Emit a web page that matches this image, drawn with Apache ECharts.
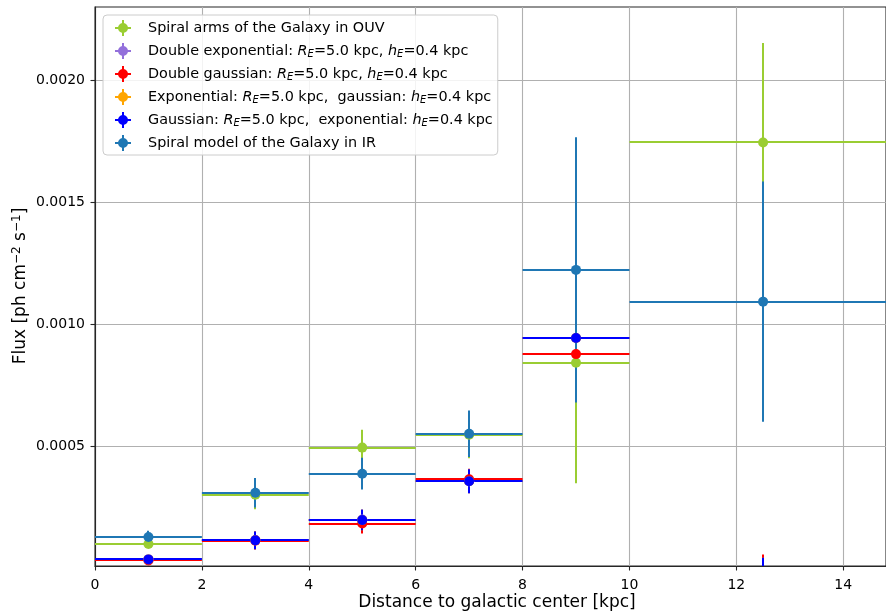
<!DOCTYPE html>
<html>
<head>
<meta charset="utf-8">
<script src="https://cdn.jsdelivr.net/npm/echarts@6/dist/echarts.min.js"></script>
<style>
  html, body { margin: 0; padding: 0; background: #ffffff; }
  #chart { width: 886px; height: 614px; }
</style>
</head>
<body>
<div id="chart"></div>
<script>
// Radial bins (kpc): centre, lower edge, upper edge
const binCenters = [1, 3, 5, 7, 9, 12.5];
const binLow     = [0, 2, 4, 6, 8, 10];
const binHigh    = [2, 4, 6, 8, 10, 15];

// Flux per bin [ph cm^-2 s^-1] and its 1-sigma error
const ouvFlux   = [0.000100, 0.000302, 0.000495, 0.000548, 0.000843, 0.001745];
const ouvErr    = [0.000012, 0.000060, 0.000073, 0.000097, 0.000494, 0.000408];

const dblExpFlux = [0.000037, 0.000116, 0.000200, 0.000357, 0.000944, 0.0];
const dblExpErr  = [0.000008, 0.000036, 0.000042, 0.000049, 0.000060, 0.000044];

const dblGauFlux = [0.000033, 0.000114, 0.000184, 0.000365, 0.000878, 0.0];
const dblGauErr  = [0.000008, 0.000036, 0.000041, 0.000043, 0.000060, 0.000057];

const expGauFlux = [0.000037, 0.000115, 0.000198, 0.000357, 0.000944, 0.0];
const expGauErr  = [0.000008, 0.000036, 0.000042, 0.000049, 0.000060, 0.000044];

const gauExpFlux = [0.000037, 0.000115, 0.000198, 0.000357, 0.000944, 0.0];
const gauExpErr  = [0.000008, 0.000036, 0.000042, 0.000049, 0.000060, 0.000044];

const irFlux    = [0.000129, 0.000310, 0.000388, 0.000552, 0.001223, 0.001093];
const irErr     = [0.000025, 0.000060, 0.000065, 0.000095, 0.000543, 0.000492];

// Axis ticks
const xTicks = [0, 2, 4, 6, 8, 10, 12, 14];
const yTicks = [0.0005, 0.0010, 0.0015, 0.0020];

const seriesDefs = [
  { name: 'Spiral arms of the Galaxy in OUV', color: '#9acd32', flux: ouvFlux, err: ouvErr },
  { name: 'Double exponential: R_E=5.0 kpc, h_E=0.4 kpc', color: '#9370db', flux: dblExpFlux, err: dblExpErr },
  { name: 'Double gaussian: R_E=5.0 kpc, h_E=0.4 kpc', color: '#ff0000', flux: dblGauFlux, err: dblGauErr },
  { name: 'Exponential: R_E=5.0 kpc,  gaussian: h_E=0.4 kpc', color: '#ffa500', flux: expGauFlux, err: expGauErr },
  { name: 'Gaussian: R_E=5.0 kpc,  exponential: h_E=0.4 kpc', color: '#0000ff', flux: gauExpFlux, err: gauExpErr },
  { name: 'Spiral model of the Galaxy in IR', color: '#1f77b4', flux: irFlux, err: irErr }
];

const FONT = '"DejaVu Sans", "Liberation Sans", sans-serif';

// errorbar legend glyph: horizontal bar, vertical bar and a dot
const errIcon = 'path://M0,7h16v2h-16z M7,0h2v16h-2z M3,8a5,5 0 1,1 10,0a5,5 0 1,1 -10,0z';

function renderErrorBar(params, api) {
  const x = api.value(0), y = api.value(1);
  const x0 = api.value(2), x1 = api.value(3), e = api.value(4);
  const a = api.coord([x0, y]), b = api.coord([x1, y]);
  const t = api.coord([x, y + e]), d = api.coord([x, y - e]);
  // snap to whole pixels so overlapping bars cover each other cleanly
  const yy = Math.round(a[1]), xx = Math.round(t[0]);
  const style = { stroke: api.visual('color'), lineWidth: 2, fill: null };
  return {
    type: 'group',
    children: [
      { type: 'line', shape: { x1: a[0], y1: yy, x2: b[0], y2: yy }, style: style },
      { type: 'line', shape: { x1: xx, y1: t[1], x2: xx, y2: d[1] }, style: style }
    ]
  };
}

const series = [];
// bars first, then the markers on top of all bars
seriesDefs.forEach(function (s) {
  series.push({
    type: 'custom',
    name: s.name,
    renderItem: renderErrorBar,
    itemStyle: { color: s.color },
    clip: true,
    z: 2,
    silent: true,
    data: binCenters.map(function (x, i) { return [x, s.flux[i], binLow[i], binHigh[i], s.err[i]]; })
  });
});
seriesDefs.forEach(function (s) {
  series.push({
    type: 'scatter',
    name: s.name,
    symbol: 'circle',
    symbolSize: 10,
    itemStyle: { color: s.color, opacity: 1 },
    clip: true,
    z: 3,
    silent: true,
    data: binCenters.map(function (x, i) { return [x, s.flux[i]]; })
  });
});

// legend labels with italic symbols and subscripts
function legendLabel(name) {
  return name
    .replace(/R_E/g, '{i|R}{s|E}')
    .replace(/h_E/g, '{i|h}{s|E}');
}

const chart = echarts.init(document.getElementById('chart'), null, { renderer: 'canvas' });
chart.setOption({
  animation: false,
  backgroundColor: '#ffffff',
  textStyle: { fontFamily: FONT },
  grid: {
    left: 95, top: 7, right: -1, bottom: 48,
    show: true, borderColor: '#262626', borderWidth: 1.1, backgroundColor: 'transparent'
  },
  // axis titles
  graphic: [
    {
      type: 'text', x: 497, y: 603, silent: true,
      style: {
        text: 'Distance to galactic center [kpc]',
        fontFamily: FONT, fontSize: 17, fill: '#000',
        align: 'center', verticalAlign: 'middle'
      }
    },
    {
      type: 'text', x: 20.5, y: 286, rotation: Math.PI / 2, silent: true,
      style: {
        text: '{t|Flux [ph cm}{p|−2}{t| s}{p|−1}{t|]}',
        fontFamily: FONT, fontSize: 17, fill: '#000',
        align: 'center', verticalAlign: 'middle',
        rich: {
          t: { fontFamily: FONT, fontSize: 17, fill: '#000', lineHeight: 20 },
          p: { fontFamily: FONT, fontSize: 12, fill: '#000', lineHeight: 8, verticalAlign: 'top' }
        }
      }
    }
  ],
  legend: {
    orient: 'vertical',
    left: 103, top: 15,
    padding: [5, 5, 4, 12],
    itemWidth: 40, itemHeight: 16, itemGap: 7,
    backgroundColor: 'rgba(255,255,255,0.85)',
    borderColor: '#cccccc', borderWidth: 1, borderRadius: 4,
    selectedMode: false,
    data: seriesDefs.map(function (s) { return { name: s.name, icon: errIcon }; }),
    formatter: legendLabel,
    textStyle: {
      fontFamily: FONT, fontSize: 14.4, color: '#000', lineHeight: 16,
      rich: {
        i: { fontFamily: FONT, fontSize: 14.4, fontStyle: 'italic', lineHeight: 16, color: '#000' },
        s: { fontFamily: FONT, fontSize: 10, fontStyle: 'italic', lineHeight: 7, verticalAlign: 'bottom', color: '#000' }
      }
    }
  },
  xAxis: {
    type: 'value',
    min: 0, max: 14.8, interval: 2,
    axisLine: { show: true, onZero: false, lineStyle: { color: '#262626', width: 1.1 } },
    axisTick: { show: true, inside: false, length: 4.5, lineStyle: { color: '#262626', width: 1.1 }, customValues: xTicks },
    axisLabel: { fontFamily: FONT, fontSize: 14, color: '#000', margin: 12, customValues: xTicks },
    splitLine: { show: true, lineStyle: { color: '#b0b0b0', width: 1.1 } }
  },
  yAxis: {
    type: 'value',
    min: 0.00001, max: 0.0023,
    minInterval: 0.0005, maxInterval: 0.0005,
    axisLine: { show: true, lineStyle: { color: '#262626', width: 1.1 } },
    axisTick: { show: true, inside: false, length: 4.5, lineStyle: { color: '#262626', width: 1.1 }, customValues: yTicks },
    axisLabel: {
      fontFamily: FONT, fontSize: 14, color: '#000', margin: 10,
      customValues: yTicks,
      formatter: function (v) { return v.toFixed(4); }
    },
    splitLine: { show: true, lineStyle: { color: '#b0b0b0', width: 1.1 } }
  },
  series: series
});
</script>
</body>
</html>
